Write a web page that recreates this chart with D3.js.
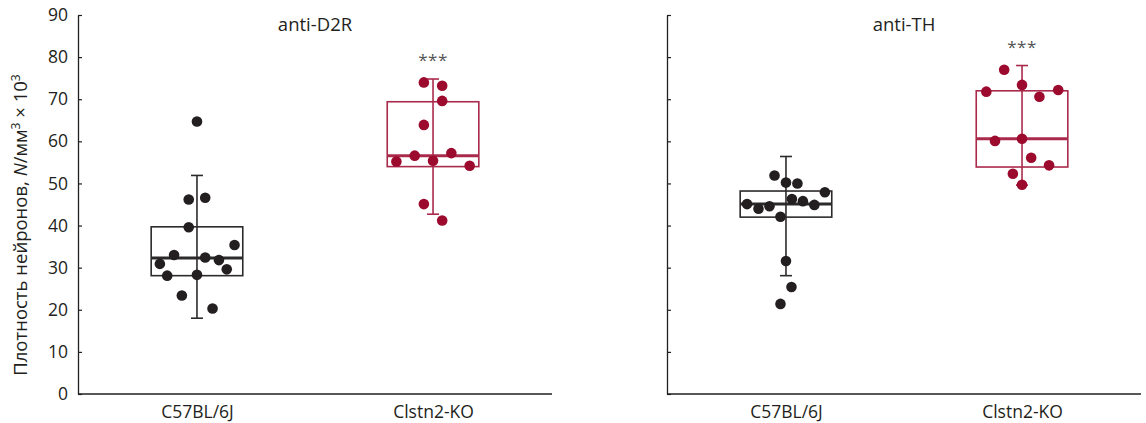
<!DOCTYPE html>
<html><head><meta charset="utf-8">
<script src="https://cdn.jsdelivr.net/npm/d3@7"></script>
<style>
html,body{margin:0;padding:0;background:#fff;}
svg{display:block;font-family:"Open Sans","Noto Sans",sans-serif;}
</style></head>
<body>
<svg id="chart" width="1146" height="423"></svg>
<script>
// ---- data ----
const groups = ["C57BL/6J", "Clstn2-KO"];
const panelTitles = ["anti-D2R", "anti-TH"];
const yTicks = [0, 10, 20, 30, 40, 50, 60, 70, 80, 90];
const significance = ["", "***"];

// anti-D2R
const d2rWT = [64.7, 46.2, 46.6, 39.6, 35.4, 33.0, 32.4, 31.8, 30.9, 29.6, 28.1, 28.3, 23.4, 20.3];
const d2rWTJitter = [0, -0.18, 0.18, -0.18, 0.82, -0.5, 0.18, 0.48, -0.81, 0.65, -0.65, 0, -0.33, 0.34];
const d2rKO = [74.0, 73.2, 69.6, 63.9, 56.6, 57.2, 55.2, 55.4, 54.2, 45.1, 41.2];
const d2rKOJitter = [-0.2, 0.2, 0.2, -0.2, -0.4, 0.4, -0.8, 0, 0.8, -0.2, 0.2];
// box stats: [whisker low, q1, median, q3, whisker high]
const d2rWTBox = [18.0, 28.1, 32.3, 39.7, 51.9];
const d2rKOBox = [42.7, 54.0, 56.6, 69.4, 74.8];

// anti-TH
const thWT = [51.9, 50.2, 50.0, 47.9, 46.3, 45.8, 45.1, 44.0, 44.6, 44.9, 42.1, 31.6, 25.4, 21.4];
const thWTJitter = [-0.25, 0, 0.25, 0.85, 0.13, 0.37, -0.85, -0.6, -0.36, 0.62, -0.12, 0, 0.12, -0.12];
const thKO = [77.0, 73.4, 71.8, 72.2, 70.6, 60.1, 60.6, 56.1, 54.3, 52.3, 49.7];
const thKOJitter = [-0.39, 0, -0.78, 0.79, 0.38, -0.59, 0, 0.2, 0.59, -0.2, 0];
const thWTBox = [28.1, 42.0, 45.1, 48.2, 56.4];
const thKOBox = [49.6, 53.9, 60.6, 72.0, 78.0];

// ---- build ----
const panels = [
  {title: panelTitles[0], sets: [
    {vals: d2rWT, jit: d2rWTJitter, box: d2rWTBox},
    {vals: d2rKO, jit: d2rKOJitter, box: d2rKOBox}]},
  {title: panelTitles[1], sets: [
    {vals: thWT, jit: thWTJitter, box: thWTBox},
    {vals: thKO, jit: thKOJitter, box: thKOBox}]}
];

const colors = {
  dot: ["#231f20", "#9c0a2e"],
  line: ["#2d2a2b", "#aa2a4c"]
};

const svg = d3.select("#chart");
const y = d3.scaleLinear().domain([0, 90]).range([394, 15]);
const panelX = [[78, 552], [667, 1141]];
const fontSize = 17.5;

panels.forEach((p, pi) => {
  const x = d3.scalePoint().domain(groups).range(panelX[pi]).padding(0.504);
  const g = svg.append("g");
  const boxW = x.step() * 0.388;
  const capW = 12;

  // axes
  const yAxis = d3.axisLeft(y).tickValues(yTicks).tickSizeInner(-4).tickSizeOuter(0).tickPadding(10)
    .tickFormat(pi === 0 ? d3.format("d") : () => "");
  const ya = g.append("g").attr("transform", `translate(${panelX[pi][0]},0)`).call(yAxis);
  ya.select(".domain").attr("stroke", "#231f20").attr("stroke-width", 1.3);
  ya.selectAll(".tick line").attr("stroke", "#231f20").attr("stroke-width", 1.2);
  ya.selectAll(".tick text").attr("font-size", fontSize).attr("fill", "#231f20")
    .attr("font-family", "'Open Sans','Noto Sans',sans-serif");

  const xAxis = d3.axisBottom(x).tickSize(0).tickSizeOuter(0).tickPadding(12);
  const xa = g.append("g").attr("transform", `translate(0,${y(0)})`).call(xAxis);
  xa.select(".domain").attr("stroke", "#231f20").attr("stroke-width", 1.3)
    .attr("d", `M${panelX[pi][0]},0H${panelX[pi][1]}`);
  xa.selectAll(".tick text").attr("font-size", fontSize).attr("fill", "#231f20")
    .attr("font-family", "'Open Sans','Noto Sans',sans-serif");

  // title
  g.append("text").attr("x", (panelX[pi][0] + panelX[pi][1]) / 2).attr("y", 31)
    .attr("text-anchor", "middle").attr("font-size", 18.5).attr("fill", "#231f20")
    .text(p.title);

  p.sets.forEach((s, gi) => {
    const cx = x(groups[gi]);
    const lc = colors.line[gi];
    const [lo, q1, med, q3, hi] = s.box;
    // box
    g.append("rect").attr("x", cx - boxW / 2).attr("y", y(q3))
      .attr("width", boxW).attr("height", y(q1) - y(q3))
      .attr("fill", "none").attr("stroke", lc).attr("stroke-width", 1.6);
    // whisker
    g.append("line").attr("x1", cx).attr("x2", cx).attr("y1", y(lo)).attr("y2", y(hi))
      .attr("stroke", lc).attr("stroke-width", 1.6);
    [lo, hi].forEach(v => g.append("line").attr("x1", cx - capW / 2).attr("x2", cx + capW / 2)
      .attr("y1", y(v)).attr("y2", y(v)).attr("stroke", lc).attr("stroke-width", 1.6));
    // median
    g.append("line").attr("x1", cx - boxW / 2).attr("x2", cx + boxW / 2)
      .attr("y1", y(med)).attr("y2", y(med)).attr("stroke", lc).attr("stroke-width", 3);
    // dots
    g.selectAll(null).data(s.vals).join("circle")
      .attr("cx", (d, i) => cx + s.jit[i] * boxW / 2)
      .attr("cy", d => y(d)).attr("r", 5.3).attr("fill", colors.dot[gi]);
    // significance
    if (significance[gi]) {
      g.append("text").attr("x", cx).attr("y", y(hi) - 13).attr("text-anchor", "middle")
        .attr("font-size", 17).attr("fill", "#555").attr("letter-spacing", 0.5)
        .text(significance[gi]);
    }
  });
});

// y-axis label
const yl = svg.append("text").attr("transform", "translate(27,225) rotate(-90)")
  .attr("text-anchor", "middle").attr("font-size", 18.5).attr("fill", "#231f20");
yl.append("tspan").text("Плотность нейронов, ");
yl.append("tspan").attr("font-style", "italic").text("N");
yl.append("tspan").text("/мм");
yl.append("tspan").attr("font-size", 12).attr("dy", -7).text("3");
yl.append("tspan").attr("dy", 7).text(" × 10");
yl.append("tspan").attr("font-size", 12).attr("dy", -7).text("3");
</script>
</body></html>
